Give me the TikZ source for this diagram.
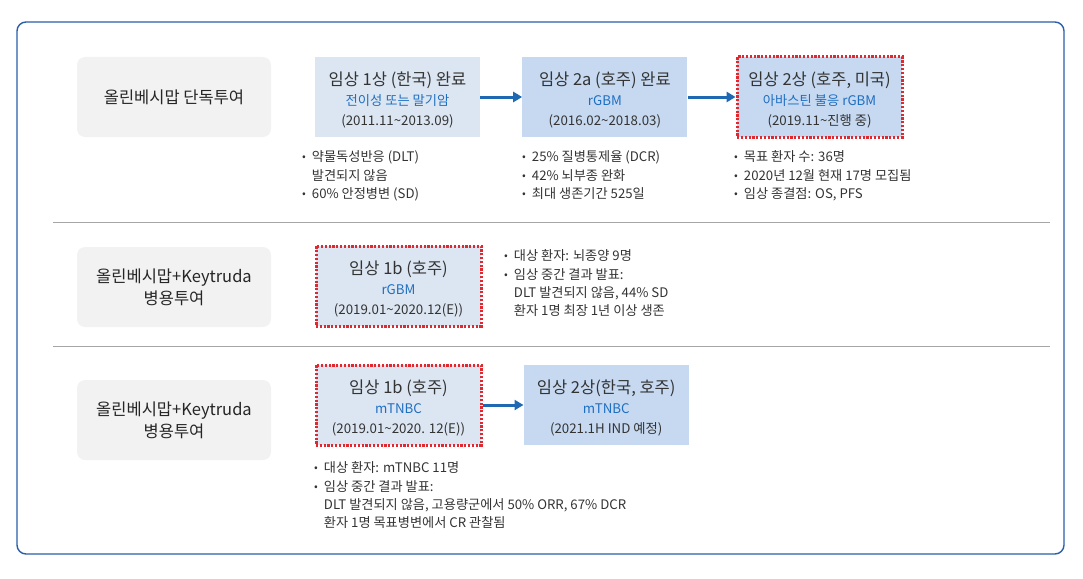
\documentclass[tikz,border=0pt]{standalone}
\usepackage{fontspec}
\setmainfont{Noto Sans CJK KR}
\usetikzlibrary{positioning,arrows.meta}
\definecolor{framebl}{HTML}{2A5EA8}
\definecolor{greybox}{HTML}{F2F2F2}
\definecolor{paleblue}{HTML}{DCE6F2}
\definecolor{midblue}{HTML}{C6D9F1}
\definecolor{txtblue}{HTML}{1F6FC0}
\definecolor{arrblue}{HTML}{1F68B2}
\definecolor{dotred}{HTML}{E0282E}
\definecolor{txtgrey}{HTML}{333333}
\newcommand{\boxtitle}[1]{{\fontsize{16.5}{20}\selectfont\rule{0pt}{20pt}#1}}
\newcommand{\boxsub}[1]{{\color{txtblue}#1}}
\newcommand{\bul}{\raisebox{1pt}{\fontsize{11}{11}\selectfont\textbullet}}
\newcommand{\til}{\textasciitilde{}}
\begin{document}
\begin{tikzpicture}[x=1pt,y=-1pt,
    armbox/.style={fill=greybox, rounded corners=8pt, minimum width=194pt,
        minimum height=80pt, align=center, text=black!85,
        font=\fontsize{16.5}{22}\selectfont},
    trialbox/.style={minimum width=165pt, minimum height=80pt, align=center,
        text=txtgrey, inner sep=0pt, font=\fontsize{13.3}{20}\selectfont},
    ongoing/.style={trialbox, draw=dotred, line width=3pt,
        dash pattern=on 2.2pt off 1.6pt},
    flowarrow/.style={draw=arrblue, line width=3pt,
        -{Triangle[length=9pt,width=10pt]}},
    notes/.style={anchor=north west, inner sep=0pt, text=txtgrey,
        font=\fontsize{13.2}{18.2}\selectfont},
    sepline/.style={draw=black!35, line width=0.8pt}]
    \useasboundingbox (0,0) rectangle (1083,578);

    % outer frame
    \draw[framebl, line width=1.4pt, rounded corners=9pt] (17,22) rectangle (1064,554);

    % row separators
    \draw[sepline] (53,222) -- (1050,222);
    \draw[sepline] (53,346) -- (1050,346);

    % left labels
    \node[armbox] (mono) at (174,97) {올린베시맙 단독투여};
    \node[armbox] (combogbm) at (174,287) {올린베시맙+Keytruda\\병용투여};
    \node[armbox] (combotnbc) at (174,420) {올린베시맙+Keytruda\\병용투여};

    % row 1: monotherapy
    \node[trialbox, fill=paleblue] (ph1) at (397.5,97)
        {\boxtitle{임상 1상 (한국) 완료}\\\boxsub{전이성 또는 말기암}\\(2011.11\til 2013.09)};
    \node[trialbox, fill=midblue, right=42pt of ph1] (ph2a)
        {\boxtitle{임상 2a (호주) 완료}\\\boxsub{rGBM}\\(2016.02\til 2018.03)};
    \node[ongoing, fill=midblue, right=48pt of ph2a] (ph2)
        {\boxtitle{임상 2상 (호주, 미국)}\\\boxsub{아바스틴 불응 rGBM}\\(2019.11\til 진행 중)};
    \draw[flowarrow] (ph1) -- (ph2a);
    \draw[flowarrow] (ph2a) -- (ph2);

    \node[notes] (ph1notes) at (302,149) {\begin{tabular}{@{}l@{\hspace{6pt}}l@{}}
        \bul & 약물독성반응 (DLT)\\ & 발견되지 않음\\ \bul & 60\% 안정병변 (SD)\end{tabular}};
    \node[notes] (ph2anotes) at (522,149) {\begin{tabular}{@{}l@{\hspace{6pt}}l@{}}
        \bul & 25\% 질병통제율 (DCR)\\ \bul & 42\% 뇌부종 완화\\ \bul & 최대 생존기간 525일\end{tabular}};
    \node[notes] (ph2notes) at (734,149) {\begin{tabular}{@{}l@{\hspace{6pt}}l@{}}
        \bul & 목표 환자 수: 36명\\ \bul & 2020년 12월 현재 17명 모집됨\\ \bul & 임상 종결점: OS, PFS\end{tabular}};

    % row 2: combination, rGBM
    \node[ongoing, fill=paleblue] (gbm1b) at (398.5,286)
        {\boxtitle{임상 1b (호주)}\\\boxsub{rGBM}\\(2019.01\til 2020.12(E))};
    \node[notes] (gbmnotes) at (504,248) {\begin{tabular}{@{}l@{\hspace{6pt}}l@{}}
        \bul & 대상 환자: 뇌종양 9명\\ \bul & 임상 중간 결과 발표:\\
        & DLT 발견되지 않음, 44\% SD\\ & 환자 1명 최장 1년 이상 생존\end{tabular}};

    % row 3: combination, mTNBC
    \node[ongoing, fill=paleblue] (tnbc1b) at (398.5,405)
        {\boxtitle{임상 1b (호주)}\\\boxsub{mTNBC}\\(2019.01\til 2020. 12(E))};
    \node[trialbox, fill=midblue, right=41pt of tnbc1b] (tnbc2)
        {\boxtitle{임상 2상(한국, 호주)}\\\boxsub{mTNBC}\\(2021.1H IND 예정)};
    \draw[flowarrow] (tnbc1b) -- (tnbc2);
    \node[notes] (tnbcnotes) at (314,460) {\begin{tabular}{@{}l@{\hspace{6pt}}l@{}}
        \bul & 대상 환자: mTNBC 11명\\ \bul & 임상 중간 결과 발표:\\
        & DLT 발견되지 않음, 고용량군에서 50\% ORR, 67\% DCR\\ & 환자 1명 목표병변에서 CR 관찰됨\end{tabular}};
\end{tikzpicture}
\end{document}
